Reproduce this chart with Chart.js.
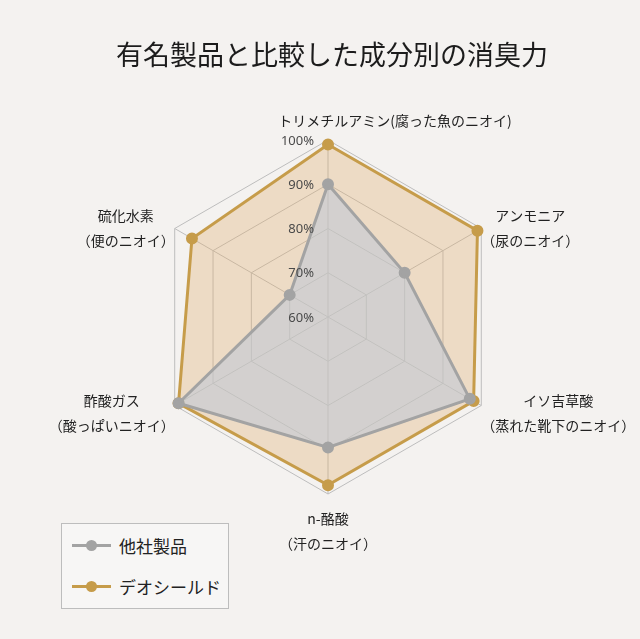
<!DOCTYPE html>
<html>
<head>
<meta charset="utf-8">
<script src="https://cdn.jsdelivr.net/npm/chart.js"></script>
<style>
  html, body {
    margin: 0;
    padding: 0;
    background: #f4f2f0;
  }
  .wrap {
    position: relative;
    width: 640px;
    height: 639px;
  }
  .legende {
    position: absolute;
    left: 61px;
    top: 523px;
    width: 166px;
    height: 84px;
    border: 1px solid #bdbdbd;
    background: #f7f6f5;
    font-family: "Noto Sans CJK JP", sans-serif;
    font-size: 17px;
    color: #222;
  }
  .item {
    position: absolute;
    left: 10px;
    height: 24px;
    line-height: 24px;
    padding-left: 47px;
  }
  .item .trait {
    position: absolute;
    left: 0;
    top: 10px;
    width: 39px;
    height: 3px;
  }
  .item .rond {
    position: absolute;
    left: 14px;
    top: 6px;
    width: 11px;
    height: 11px;
    border-radius: 50%;
  }
</style>
</head>
<body>
<div class="wrap">
  <canvas id="radar" width="640" height="639"></canvas>
  <div class="legende" id="legende"></div>
</div>

<script>
const chartTitle = '有名製品と比較した成分別の消臭力';
const categories = [
  ['トリメチルアミン(腐った魚のニオイ)'],
  ['アンモニア', '（尿のニオイ）'],
  ['イソ吉草酸', '（蒸れた靴下のニオイ）'],
  ['n-酪酸', '（汗のニオイ）'],
  ['酢酸ガス', '（酸っぱいニオイ）'],
  ['硫化水素', '（便のニオイ）']
];
const seriesNames = ['他社製品', 'デオシールド'];
const autresValues = [90, 80, 97, 89.5, 99, 70];
const deoValues = [99, 99, 98, 98, 99, 95.5];
const tickValues = [60, 70, 80, 90, 100];

const gris = '#a3a3a3';
const dore = '#c69c4a';
const jpFont = '"Noto Sans CJK JP", sans-serif';

// title, tick labels and point labels, placed from the r scale
// (the built-in title gets squeezed by the big side padding)
const labelsPlugin = {
  id: 'labelsPlugin',
  afterDatasetsDraw(chart) {
    const ctx = chart.ctx;
    const r = chart.scales.r;
    ctx.save();

    ctx.font = '27px ' + jpFont;
    ctx.fillStyle = '#1c1c1c';
    ctx.textAlign = 'center';
    ctx.textBaseline = 'middle';
    ctx.fillText(chartTitle, chart.width / 2 + 12, 55);

    ctx.font = '13px "Noto Sans", sans-serif';
    ctx.fillStyle = '#4a4a4a';
    ctx.textAlign = 'right';
    r.ticks.forEach(t => {
      const d = r.getDistanceFromCenterForValue(t.value);
      ctx.fillText(t.value + '%', r.xCenter - 14, r.yCenter - d + 1);
    });

    ctx.font = '14px ' + jpFont;
    ctx.fillStyle = '#222';
    ctx.textAlign = 'center';
    chart.data.labels.forEach((lines, i) => {
      const p = r.getPointPosition(i, r.drawingArea);
      const dx = p.x - r.xCenter;
      const maxW = Math.max(...lines.map(l => ctx.measureText(l).width));
      let x, y;
      if (Math.abs(dx) < 1) {
        if (p.y < r.yCenter) {
          x = p.x + 67;
          y = p.y - 19;
        } else {
          x = p.x;
          y = p.y + 25;
        }
      } else {
        x = dx > 0 ? p.x + maxW / 2 : p.x - maxW / 2;
        y = p.y < r.yCenter ? p.y - 13 : p.y - 5;
      }
      lines.forEach((l, k) => ctx.fillText(l, x, y + k * 25));
    });
    ctx.restore();
  }
};

const dataChart = {
  labels: categories,
  datasets: [
    {
      label: seriesNames[0],
      data: autresValues,
      borderColor: gris,
      backgroundColor: 'rgba(190, 200, 215, 0.55)',
      pointBackgroundColor: gris,
      pointBorderColor: gris,
      pointRadius: 4.5,
      borderWidth: 3,
      fill: true
    },
    {
      label: seriesNames[1],
      data: deoValues,
      borderColor: dore,
      backgroundColor: 'rgba(225, 170, 105, 0.32)',
      pointBackgroundColor: dore,
      pointBorderColor: dore,
      pointRadius: 4.5,
      borderWidth: 3,
      fill: true
    }
  ]
};

const configChart = {
  type: 'radar',
  data: dataChart,
  options: {
    responsive: false,
    animation: false,
    layout: {
      padding: { left: 150, right: 134, top: 139.4, bottom: 144 }
    },
    plugins: {
      legend: { display: false },
      tooltip: { enabled: false },
      title: { display: false }
    },
    scales: {
      r: {
        min: tickValues[0],
        max: tickValues[tickValues.length - 1],
        ticks: { stepSize: 10, display: false },
        pointLabels: { display: false },
        grid: { color: '#bdbdbd', lineWidth: 1 },
        angleLines: { color: '#bdbdbd', lineWidth: 1 }
      }
    }
  },
  plugins: [labelsPlugin]
};

const myChart = new Chart(document.getElementById('radar'), configChart);

// legend
const legende = document.getElementById('legende');
[[seriesNames[0], gris, 10], [seriesNames[1], dore, 51]].forEach(([nom, coul, top]) => {
  const it = document.createElement('div');
  it.className = 'item';
  it.style.top = top + 'px';
  it.innerHTML = `<span class="trait" style="background:${coul}"></span>` +
    `<span class="rond" style="background:${coul}"></span>${nom}`;
  legende.appendChild(it);
});
</script>
</body>
</html>
